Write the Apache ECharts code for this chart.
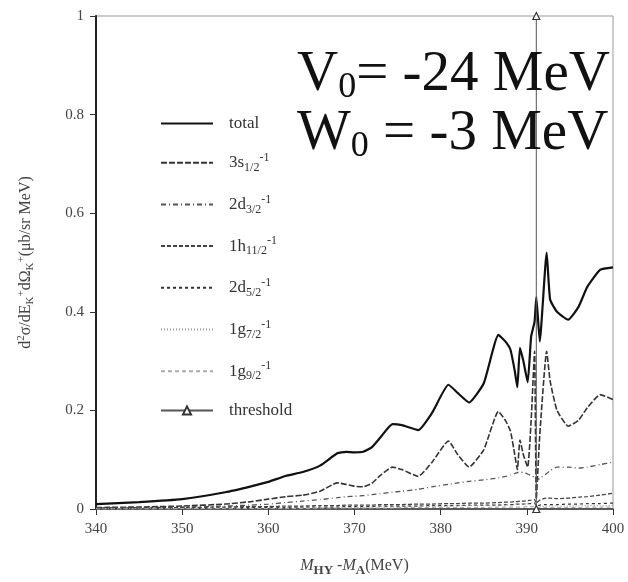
<!DOCTYPE html>
<html>
<head>
<meta charset="utf-8">
<script src="https://cdn.jsdelivr.net/npm/echarts@6/dist/echarts.min.js"></script>
<style>
  html, body { margin: 0; padding: 0; background: #fff; }
  #chart { width: 628px; height: 582px; }
</style>
</head>
<body>
<div id="chart"></div>
<script>
// energies M_HY - M_A (MeV), shared by all the curves
const energies = [340, 345, 350, 355, 358, 360, 362, 364, 366, 368, 369, 370, 371, 372, 373, 374.4, 375.5, 377.4, 379, 380.9,
  382, 383.3, 385, 386.7, 387.5, 388.1, 388.6, 388.9, 389.2, 389.6, 390.1, 390.5, 390.9, 391.1, 391.5, 392.3, 392.7, 393.5,
  394.8, 396, 397, 398.5, 400]

const total = [0.010, 0.014, 0.020, 0.034, 0.046, 0.055, 0.067, 0.075, 0.088, 0.113, 0.116, 0.115, 0.116, 0.125, 0.145, 0.172, 0.170, 0.160, 0.195, 0.252,
  0.235, 0.216, 0.255, 0.353, 0.340, 0.323, 0.280, 0.247, 0.327, 0.300, 0.257, 0.350, 0.380, 0.430, 0.340, 0.520, 0.425, 0.400,
  0.384, 0.410, 0.450, 0.485, 0.490]

const s12 = [0.003, 0.004, 0.006, 0.010, 0.015, 0.020, 0.025, 0.028, 0.036, 0.053, 0.050, 0.046, 0.045, 0.052, 0.068, 0.085, 0.080, 0.066, 0.095, 0.138,
  0.110, 0.085, 0.120, 0.198, 0.180, 0.158, 0.110, 0.080, 0.140, 0.110, 0.085, 0.180, 0.320, 0.020, 0.150, 0.320, 0.260, 0.200,
  0.168, 0.180, 0.205, 0.232, 0.222]

const d32 = [0.002, 0.003, 0.004, 0.006, 0.008, 0.010, 0.013, 0.016, 0.019, 0.023, 0.025, 0.026, 0.027, 0.029, 0.031, 0.034, 0.036, 0.040, 0.045, 0.050,
  0.053, 0.056, 0.059, 0.063, 0.066, 0.069, 0.072, 0.074, 0.075, 0.074, 0.071, 0.068, 0.064, 0.058, 0.062, 0.072, 0.078, 0.085,
  0.085, 0.083, 0.085, 0.090, 0.095]

const h112 = [0.002, 0.002, 0.003, 0.004, 0.005, 0.005, 0.006, 0.006, 0.007, 0.007, 0.008, 0.008, 0.008, 0.008, 0.009, 0.009, 0.009, 0.010, 0.010, 0.011,
  0.011, 0.012, 0.012, 0.013, 0.014, 0.014, 0.015, 0.015, 0.016, 0.016, 0.017, 0.018, 0.019, 0.012, 0.018, 0.022, 0.022, 0.021,
  0.022, 0.024, 0.025, 0.028, 0.032]

const d52 = [0.001, 0.001, 0.002, 0.002, 0.003, 0.003, 0.003, 0.004, 0.004, 0.004, 0.005, 0.005, 0.005, 0.005, 0.006, 0.006, 0.006, 0.006, 0.007, 0.007,
  0.007, 0.008, 0.008, 0.008, 0.009, 0.009, 0.009, 0.010, 0.010, 0.010, 0.011, 0.011, 0.012, 0.006, 0.008, 0.009, 0.009, 0.009,
  0.010, 0.010, 0.011, 0.011, 0.012]

const g72 = [0.001, 0.001, 0.001, 0.002, 0.002, 0.002, 0.003, 0.003, 0.003, 0.004, 0.004, 0.004, 0.004, 0.005, 0.005, 0.005, 0.005, 0.006, 0.006, 0.006,
  0.007, 0.007, 0.007, 0.008, 0.008, 0.009, 0.009, 0.010, 0.010, 0.010, 0.011, 0.012, 0.013, 0.004, 0.005, 0.006, 0.006, 0.006,
  0.006, 0.006, 0.007, 0.007, 0.007]

const g92 = [0.000, 0.000, 0.001, 0.001, 0.001, 0.001, 0.001, 0.001, 0.002, 0.002, 0.002, 0.002, 0.002, 0.002, 0.002, 0.002, 0.003, 0.003, 0.003, 0.003,
  0.003, 0.003, 0.003, 0.004, 0.004, 0.004, 0.004, 0.004, 0.004, 0.004, 0.005, 0.005, 0.005, 0.002, 0.003, 0.003, 0.003, 0.003,
  0.003, 0.003, 0.004, 0.004, 0.004]

const thresholdE = 391.1
const thresholdY = [0, 1]

const xTicks = { min: 340, max: 400, interval: 10 }
const yTicks = { min: 0, max: 1, interval: 0.2 }

const serif = '"Liberation Serif", "DejaVu Serif", serif'

function pairs(ys) {
  return energies.map((e, i) => [e, ys[i]])
}

function curve(name, ys, color, width, dash) {
  return {
    name,
    type: 'line',
    data: pairs(ys),
    symbol: 'none',
    smooth: 0.15,
    lineStyle: { color, width, type: dash },
    itemStyle: { color },
    z: 3
  }
}

const legendRich = {
  t: { fontSize: 17, lineHeight: 22, color: '#333', fontFamily: serif },
  sub: { fontSize: 12, lineHeight: 12, verticalAlign: 'bottom', color: '#333', fontFamily: serif },
  sup: { fontSize: 12, lineHeight: 14, verticalAlign: 'top', color: '#333', fontFamily: serif }
}

const legendText = {
  'total': '{t|total}',
  '3s1/2': '{t|3s}{sub|1/2}{sup|-1}',
  '2d3/2': '{t|2d}{sub|3/2}{sup|-1}',
  '1h11/2': '{t|1h}{sub|11/2}{sup|-1}',
  '2d5/2': '{t|2d}{sub|5/2}{sup|-1}',
  '1g7/2': '{t|1g}{sub|7/2}{sup|-1}',
  '1g9/2': '{t|1g}{sub|9/2}{sup|-1}',
  'threshold': '{t|threshold}'
}

const legendNames = Object.keys(legendText)

const chart = echarts.init(document.getElementById('chart'))

const option = {
  animation: false,
  backgroundColor: '#fff',
  grid: {
    left: 96,
    right: 15,
    top: 16,
    bottom: 72,
    show: true,
    borderColor: '#999',
    borderWidth: 1
  },
  legend: {
    orient: 'vertical',
    left: 155,
    top: 110,
    itemWidth: 52,
    itemHeight: 10,
    itemGap: 19.7,
    data: legendNames.map(n => n === 'threshold' ? { name: n } : { name: n, itemStyle: { opacity: 0 } }),
    formatter: name => legendText[name],
    textStyle: { rich: legendRich, padding: [0, 0, 0, 11] }
  },
  xAxis: {
    type: 'value',
    min: xTicks.min,
    max: xTicks.max,
    interval: xTicks.interval,
    name: '{i|M}{sub|HY}{t| -}{i|M}{sub|A}{t|(MeV)}',
    nameLocation: 'middle',
    nameGap: 46,
    nameTextStyle: {
      rich: {
        t: { fontSize: 16, fontFamily: serif, color: '#444', lineHeight: 22 },
        i: { fontSize: 16, fontStyle: 'italic', fontFamily: serif, color: '#444', lineHeight: 22 },
        sub: { fontSize: 13, fontWeight: 'bold', fontFamily: serif, color: '#444', lineHeight: 14, verticalAlign: 'bottom' }
      }
    },
    axisLine: { lineStyle: { color: '#333', width: 1.5 } },
    axisTick: { length: 6, lineStyle: { color: '#333' } },
    axisLabel: { fontFamily: serif, fontSize: 15, color: '#444', margin: 13 },
    splitLine: { show: false }
  },
  yAxis: {
    type: 'value',
    min: yTicks.min,
    max: yTicks.max,
    interval: yTicks.interval,
    name: '{t|d}{sup|2}{t|σ/dE}{sub|K}{sup|+}{t|dΩ}{sub|K}{sup|+}{t|(μb/sr MeV)}',
    nameLocation: 'middle',
    nameRotate: 90,
    nameGap: 60,
    nameTextStyle: {
      rich: {
        t: { fontSize: 16, fontFamily: serif, color: '#444', lineHeight: 20 },
        sub: { fontSize: 11, fontFamily: serif, color: '#444', lineHeight: 12, verticalAlign: 'bottom' },
        sup: { fontSize: 11, fontFamily: serif, color: '#444', lineHeight: 12, verticalAlign: 'top' }
      }
    },
    axisLine: { show: true, lineStyle: { color: '#222', width: 2 } },
    axisTick: { show: true, length: 6, lineStyle: { color: '#333' } },
    axisLabel: { fontFamily: serif, fontSize: 15, color: '#444', margin: 12 },
    splitLine: { show: false }
  },
  graphic: [
    {
      type: 'text',
      left: 297,
      top: 47,
      style: {
        text: '{m|V}{s|0}{m|= -24 MeV}',
        rich: {
          m: { fontSize: 57, fontFamily: serif, fill: '#111', lineHeight: 60 },
          s: { fontSize: 36, fontFamily: serif, fill: '#111', lineHeight: 30, verticalAlign: 'bottom' }
        }
      },
      z: 10
    },
    {
      type: 'text',
      left: 297,
      top: 106,
      style: {
        text: '{m|W}{s|0}{m| = -3 MeV}',
        rich: {
          m: { fontSize: 57, fontFamily: serif, fill: '#111', lineHeight: 60 },
          s: { fontSize: 36, fontFamily: serif, fill: '#111', lineHeight: 30, verticalAlign: 'bottom' }
        }
      },
      z: 10
    }
  ],
  series: [
    curve('total', total, '#111', 2.2, 'solid'),
    curve('3s1/2', s12, '#333', 1.6, [6, 2]),
    curve('2d3/2', d32, '#555', 1.3, [5, 3, 1, 3]),
    curve('1h11/2', h112, '#444', 1.3, [4, 2]),
    curve('2d5/2', d52, '#333', 1.2, [3, 3]),
    curve('1g7/2', g72, '#999', 1.2, [1, 2]),
    curve('1g9/2', g92, '#aaa', 1.2, [4, 3]),
    {
      name: 'threshold',
      type: 'line',
      data: thresholdY.map(y => [thresholdE, y]),
      symbol: 'triangle',
      symbolSize: 7,
      showSymbol: true,
      clip: false,
      lineStyle: { color: '#555', width: 1 },
      itemStyle: { color: '#fff', borderColor: '#333', borderWidth: 1.2 },
      z: 4
    }
  ]
}

chart.setOption(option)
</script>
</body>
</html>
